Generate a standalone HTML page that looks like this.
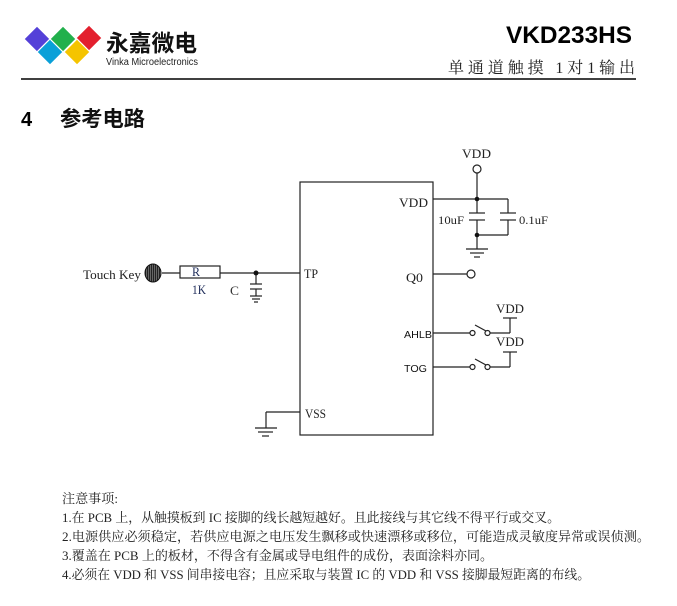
<!DOCTYPE html>
<html>
<head>
<meta charset="utf-8">
<style>
html,body{margin:0;padding:0;background:#fff;}
svg{display:block;}
.s{font-family:"Liberation Serif","Noto Serif CJK SC",serif;}
.a{font-family:"Liberation Sans","Noto Sans CJK SC",sans-serif;}
</style>
</head>
<body>
<svg width="677" height="606" viewBox="0 0 677 606" xmlns="http://www.w3.org/2000/svg">
  <!-- Logo diamonds -->
  <g stroke="#fff" stroke-width="1.2">
    <polygon points="37,26 50,39 37,52 24,39" fill="#5440d8"/>
    <polygon points="63,26 76,39 63,52 50,39" fill="#22b04c"/>
    <polygon points="89,25 102,38 89,51 76,38" fill="#e3202e"/>
    <polygon points="50,39 63,52 50,65 37,52" fill="#0aa0d8"/>
    <polygon points="77,39 90,52 77,65 64,52" fill="#f5c400"/>
  </g>
  <text x="106" y="51" class="a" font-size="23" font-weight="bold" fill="#111" textLength="91" lengthAdjust="spacingAndGlyphs">永嘉微电</text>
  <text x="106" y="65" class="a" font-size="10" fill="#222" textLength="92" lengthAdjust="spacingAndGlyphs">Vinka Microelectronics</text>

  <!-- Header right -->
  <text x="506" y="43" class="a" font-size="24" font-weight="bold" fill="#000" textLength="126" lengthAdjust="spacingAndGlyphs">VKD233HS</text>
  <text x="448" y="73" class="s" font-size="16" fill="#222" textLength="187" lengthAdjust="spacing">单通道触摸 1对1输出</text>
  <line x1="21" y1="79" x2="636" y2="79" stroke="#000" stroke-width="1.5"/>

  <!-- Section title -->
  <text x="21" y="126" class="a" font-size="20" font-weight="bold" fill="#000">4</text>
  <text x="60" y="126" class="a" font-size="21" font-weight="bold" fill="#111" textLength="85" lengthAdjust="spacingAndGlyphs">参考电路</text>

  <!-- Circuit -->
  <g stroke="#222" stroke-width="1.2" fill="none">
    <!-- IC box -->
    <rect x="300" y="182" width="133" height="253"/>
    <!-- VDD network -->
    <line x1="433" y1="199" x2="508" y2="199"/>
    <line x1="477" y1="173" x2="477" y2="213"/>
    <line x1="508" y1="199" x2="508" y2="213"/>
    <line x1="469" y1="213" x2="485" y2="213"/>
    <line x1="469" y1="220" x2="485" y2="220"/>
    <line x1="500" y1="213" x2="516" y2="213"/>
    <line x1="500" y1="220" x2="516" y2="220"/>
    <line x1="477" y1="220" x2="477" y2="249"/>
    <line x1="508" y1="220" x2="508" y2="235"/>
    <line x1="477" y1="235" x2="508" y2="235"/>
    <line x1="466" y1="249" x2="488" y2="249"/>
    <line x1="470" y1="253" x2="484" y2="253"/>
    <line x1="474" y1="257" x2="480" y2="257"/>
    <circle cx="477" cy="169" r="4" fill="#fff"/>
    <!-- Q0 -->
    <line x1="433" y1="274" x2="467" y2="274"/>
    <circle cx="471" cy="274" r="4" fill="#fff"/>
    <!-- AHLB switch -->
    <line x1="433" y1="333" x2="470" y2="333"/>
    <circle cx="472.5" cy="333" r="2.5" fill="#fff"/>
    <line x1="475" y1="325" x2="486" y2="331"/>
    <circle cx="487.5" cy="333" r="2.5" fill="#fff"/>
    <line x1="490" y1="333" x2="510" y2="333"/>
    <line x1="510" y1="333" x2="510" y2="318"/>
    <line x1="503" y1="318" x2="517" y2="318"/>
    <!-- TOG switch -->
    <line x1="433" y1="367" x2="470" y2="367"/>
    <circle cx="472.5" cy="367" r="2.5" fill="#fff"/>
    <line x1="475" y1="359" x2="486" y2="365"/>
    <circle cx="487.5" cy="367" r="2.5" fill="#fff"/>
    <line x1="490" y1="367" x2="510" y2="367"/>
    <line x1="510" y1="367" x2="510" y2="352"/>
    <line x1="503" y1="352" x2="517" y2="352"/>
    <!-- Touch key / R / C -->
    <line x1="162" y1="273" x2="180" y2="273"/>
    <rect x="180" y="266" width="40" height="12"/>
    <line x1="220" y1="273" x2="300" y2="273"/>
    <line x1="256" y1="273" x2="256" y2="284"/>
    <line x1="250" y1="284" x2="262" y2="284"/>
    <line x1="250" y1="289" x2="262" y2="289"/>
    <line x1="256" y1="289" x2="256" y2="296"/>
    <line x1="250" y1="296" x2="262" y2="296"/>
    <line x1="252" y1="299" x2="260" y2="299"/>
    <line x1="254" y1="302" x2="258" y2="302"/>
    <!-- VSS ground -->
    <line x1="300" y1="412" x2="266" y2="412"/>
    <line x1="266" y1="412" x2="266" y2="428"/>
    <line x1="255" y1="428" x2="277" y2="428"/>
    <line x1="258" y1="432" x2="273" y2="432"/>
    <line x1="262" y1="436" x2="269" y2="436"/>
  </g>
  <!-- dots -->
  <g fill="#111">
    <circle cx="477" cy="199" r="2.3"/>
    <circle cx="477" cy="235" r="2.3"/>
    <circle cx="256" cy="273" r="2.5"/>
  </g>
  <!-- touch pad -->
  <defs>
    <pattern id="hatch" width="2" height="4" patternUnits="userSpaceOnUse">
      <rect width="2" height="4" fill="#222"/>
      <rect width="0.8" height="4" fill="#777"/>
    </pattern>
  </defs>
  <ellipse cx="153" cy="273" rx="8" ry="9" fill="url(#hatch)" stroke="#111" stroke-width="1"/>

  <!-- circuit labels -->
  <g class="s" font-size="12.5" fill="#222">
    <text x="462" y="158" textLength="29" lengthAdjust="spacingAndGlyphs">VDD</text>
    <text x="399" y="207" textLength="29" lengthAdjust="spacingAndGlyphs">VDD</text>
    <text x="438" y="224" font-size="11.5" textLength="26" lengthAdjust="spacingAndGlyphs">10uF</text>
    <text x="519" y="224" font-size="11.5" textLength="29" lengthAdjust="spacingAndGlyphs">0.1uF</text>
    <text x="406" y="282" textLength="17" lengthAdjust="spacingAndGlyphs">Q0</text>
    <text x="304" y="278" textLength="14" lengthAdjust="spacingAndGlyphs">TP</text>
    <text x="305" y="418" textLength="21" lengthAdjust="spacingAndGlyphs">VSS</text>
    <text x="83" y="279" textLength="58" lengthAdjust="spacingAndGlyphs">Touch Key</text>
    <text x="192" y="276" fill="#1f2d5a" textLength="8" lengthAdjust="spacingAndGlyphs">R</text>
    <text x="192" y="294" fill="#1f2d5a" textLength="14" lengthAdjust="spacingAndGlyphs">1K</text>
    <text x="230" y="295" fill="#333" textLength="9" lengthAdjust="spacingAndGlyphs">C</text>
    <text x="496" y="313" textLength="28" lengthAdjust="spacingAndGlyphs">VDD</text>
    <text x="496" y="346" textLength="28" lengthAdjust="spacingAndGlyphs">VDD</text>
  </g>
  <g class="a" font-size="10.5" fill="#111">
    <text x="404" y="338" textLength="28" lengthAdjust="spacingAndGlyphs">AHLB</text>
    <text x="404" y="372" textLength="23" lengthAdjust="spacingAndGlyphs">TOG</text>
  </g>

  <!-- Notes -->
  <g class="s" font-size="13" fill="#222">
    <text x="62" y="503" textLength="56" lengthAdjust="spacingAndGlyphs">注意事项:</text>
    <text x="62" y="522" textLength="498" lengthAdjust="spacingAndGlyphs">1.在 PCB 上，从触摸板到 IC 接脚的线长越短越好。且此接线与其它线不得平行或交叉。</text>
    <text x="62" y="541" textLength="588" lengthAdjust="spacingAndGlyphs">2.电源供应必须稳定，若供应电源之电压发生飘移或快速漂移或移位，可能造成灵敏度异常或误侦测。</text>
    <text x="62" y="560" textLength="431" lengthAdjust="spacingAndGlyphs">3.覆盖在 PCB 上的板材，不得含有金属或导电组件的成份，表面涂料亦同。</text>
    <text x="62" y="579" textLength="528" lengthAdjust="spacingAndGlyphs">4.必须在 VDD 和 VSS 间串接电容；且应采取与装置 IC 的 VDD 和 VSS 接脚最短距离的布线。</text>
  </g>
</svg>
</body>
</html>
